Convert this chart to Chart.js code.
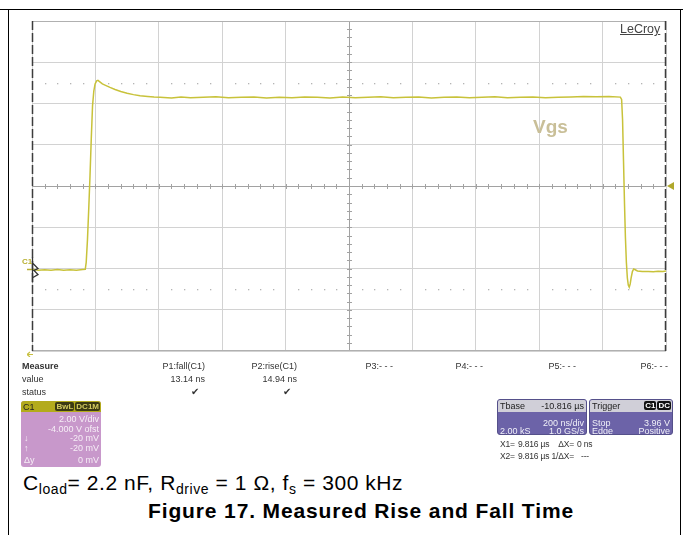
<!DOCTYPE html>
<html>
<head>
<meta charset="utf-8">
<script src="https://cdn.jsdelivr.net/npm/chart.js@4.4.0/dist/chart.umd.min.js"></script>
<style>
body { margin: 0; background: #fff; font-family: Arial, "Liberation Sans", sans-serif; }
#page { position: relative; width: 683px; height: 535px; overflow: hidden; }
#frameTop { position: absolute; left: 0; top: 9px; width: 683px; height: 0; border-top: 1.5px solid #000; }
#frameL { position: absolute; left: 8px; top: 9px; width: 0; height: 530px; border-left: 1.5px solid #000; }
#frameR { position: absolute; left: 680px; top: 9px; width: 0; height: 530px; border-left: 1.5px solid #000; }
#wrap { position: absolute; left: 27px; top: 16px; width: 651px; height: 341px; }
.t { position: absolute; white-space: nowrap; font-size: 9px; line-height: 10px; color: #333; }
.box { position: absolute; border-radius: 3px; overflow: hidden; }
.badges { position: absolute; right: 1px; top: 1px; font-size: 8px; line-height: 9px; height: 9px; }
.badge { display: inline-block; padding: 0 1px; border-radius: 2px; line-height: 9px; font-size: 8px; font-weight: bold; vertical-align: top; }
#cap1 { position: absolute; left: 23px; top: 472px; font-size: 21px; line-height: 22px; color: #000; white-space: nowrap; }
#cap1 sub { font-size: 14px; vertical-align: -4px; line-height: 0; }
#cap2 { position: absolute; left: 148px; top: 500px; font-size: 21px; line-height: 22px; font-weight: bold; color: #000; white-space: nowrap; }
</style>
</head>
<body>
<div id="page">
  <div id="frameTop"></div>
  <div id="frameL"></div>
  <div id="frameR"></div>
  <div id="wrap"><canvas id="scope" width="651" height="341"></canvas></div>

  <div class="t" style="left:620px;top:22px;font-size:12.5px;line-height:14px;color:#444;text-decoration:underline;">LeCroy</div>
  <div class="t" style="left:533px;top:116px;font-size:19px;line-height:22px;font-weight:bold;color:#c9bf98;">Vgs</div>
  <div class="t" style="left:22px;top:257px;font-size:8px;line-height:9px;font-weight:bold;color:#b8b030;">C1</div>

  <div id="cap1">C<sub>load</sub>= 2.2 nF, R<sub>drive</sub> = 1 Ω, f<sub>s</sub> = 300 kHz</div>
  <div id="cap2">Figure 17. Measured Rise and Fall Time</div>
</div>

<script>
// trace, time in ns from left edge (200 ns/div), Vgs in volts
const timeNs = [0, 20, 40, 60, 80, 100, 120, 140, 160, 168,
    171, 175, 179, 183, 187, 191, 195, 199, 204, 208, 214, 222, 232, 246, 262, 280, 300, 320, 341, 365, 385,
    404, 440, 470, 500, 540, 580, 620, 660, 700, 740, 780, 820, 860, 900, 940, 980, 1020, 1060, 1100, 1140,
    1180, 1220, 1260, 1300, 1340, 1380, 1420, 1460, 1500, 1540, 1580, 1620, 1660, 1700, 1740, 1780, 1820, 1856,
    1860, 1863, 1866, 1869, 1872, 1875, 1878, 1881, 1884, 1887, 1890, 1894, 1898, 1903, 1910, 1925, 1945, 1960, 1975, 1990, 2000];
const vgs = [-0.05, -0.08, -0.06, -0.09, -0.05, -0.08, -0.06, -0.08, -0.05, -0.04,
    0.3, 1.4, 2.9, 4.5, 6.3, 7.9, 8.6, 8.95, 9.1, 9.12, 9.05, 8.95, 8.88, 8.78, 8.68, 8.58, 8.5, 8.43, 8.38, 8.34, 8.31,
    8.3, 8.27, 8.32, 8.28, 8.3, 8.33, 8.28, 8.3, 8.32, 8.27, 8.3, 8.28, 8.32, 8.3, 8.27, 8.32, 8.28, 8.3, 8.33, 8.28,
    8.3, 8.32, 8.27, 8.3, 8.32, 8.28, 8.3, 8.33, 8.28, 8.3, 8.32, 8.28, 8.3, 8.32, 8.34, 8.33, 8.34, 8.31,
    8.2, 7.2, 5.2, 3.2, 1.5, 0.3, -0.45, -0.8, -0.9, -0.75, -0.45, -0.15, -0.02, -0.06, -0.12, -0.15, -0.14, -0.16, -0.13, -0.15, -0.12];

const dottedLevels = [9, -1];      // dotted rows across the screen
const groundLevel = 0;             // C1 marker
const triggerLevel = 4;            // arrow on right edge

const measNames = ['P1:fall(C1)', 'P2:rise(C1)', 'P3:- - -', 'P4:- - -', 'P5:- - -', 'P6:- - -'];
const measValues = ['13.14 ns', '14.94 ns', '', '', '', ''];
const measStatus = ['✔', '✔', '', '', '', ''];

const chanRows = [['', '2.00 V/div'], ['', '-4.000 V ofst'], ['↓', '-20 mV'], ['↑', '-20 mV'], ['Δy', '0 mV']];
const tbaseRows = [['Tbase', '-10.816 µs'], ['', '200 ns/div'], ['2.00 kS', '1.0 GS/s']];
const trigRows = [['Trigger', ''], ['Stop', '3.96 V'], ['Edge', 'Positive']];
const cursorRows = [['X1=', '9.816 µs', 'ΔX=', '0 ns'], ['X2=', '9.816 µs', '1/ΔX=', '---']];

// ---- text panel under the screen ----
function txt(parent, s, left, top, extra) {
    const d = document.createElement('div');
    d.className = 't';
    d.textContent = s;
    d.style.left = left + 'px';
    d.style.top = top + 'px';
    if (extra) d.style.cssText += extra;
    parent.appendChild(d);
    return d;
}

const page = document.getElementById('page');
txt(page, 'Measure', 22, 361, 'font-weight:bold;');
txt(page, 'value', 22, 374);
txt(page, 'status', 22, 387);
const colRight = [205, 297, 393, 483, 576, 668];
measNames.forEach((n, i) => {
    const l = colRight[i] - 80;
    txt(page, n, l, 361, 'width:80px;text-align:right;');
    if (measValues[i]) txt(page, measValues[i], l, 374, 'width:80px;text-align:right;');
    if (measStatus[i]) txt(page, measStatus[i], l - 6, 387, 'width:80px;text-align:right;font-size:10px;');
});

// channel box
const cb = document.createElement('div');
cb.className = 'box';
cb.style.cssText += 'left:21px;top:401px;width:80px;height:66px;background:#c898cb;';
page.appendChild(cb);
const cbHead = document.createElement('div');
cbHead.style.cssText = 'position:absolute;left:0;top:0;width:80px;height:11px;background:#b3ab1c;';
cb.appendChild(cbHead);
txt(cb, 'C1', 2, 1, 'color:#222;');
const badges = document.createElement('div');
badges.className = 'badges';
badges.innerHTML = '<span class="badge" style="background:#3c3a12;color:#d4cc60;">BwL</span><span class="badge" style="background:#3c3a12;color:#d4cc60;margin-left:1px;">DC1M</span>';
cb.appendChild(badges);
const chanY = [13, 23, 32, 42, 54];
chanRows.forEach((row, i) => {
    if (row[0]) txt(cb, row[0], 3, chanY[i], 'color:#f6eef6;');
    txt(cb, row[1], 0, chanY[i], 'width:78px;text-align:right;color:#f6eef6;');
});

// timebase and trigger boxes
function scopeBox(rows, left, width, badgeHtml) {
    const b = document.createElement('div');
    b.className = 'box';
    b.style.cssText += 'left:' + left + 'px;top:399px;width:' + width + 'px;height:36px;background:#6c63a8;border:1px solid #55508a;box-sizing:border-box;';
    page.appendChild(b);
    const h = document.createElement('div');
    h.style.cssText = 'position:absolute;left:0;top:0;width:100%;height:12px;background:#d0cfd8;';
    b.appendChild(h);
    const ys = [1, 18, 26];
    rows.forEach((row, i) => {
        const c = i === 0 ? '#222' : '#f0f0f8';
        if (row[0]) txt(b, row[0], 2, ys[i], 'color:' + c + ';');
        if (row[1]) txt(b, row[1], 0, ys[i], 'width:' + (width - 4) + 'px;text-align:right;color:' + c + ';');
    });
    if (badgeHtml) {
        const bd = document.createElement('div');
        bd.className = 'badges';
        bd.innerHTML = badgeHtml;
        b.appendChild(bd);
    }
}
scopeBox(tbaseRows, 497, 90);
scopeBox(trigRows, 589, 84, '<span class="badge" style="background:#111;color:#fff;">C1</span><span class="badge" style="background:#111;color:#fff;margin-left:1px;">DC</span>');

const curY = [439, 451];
cursorRows.forEach((row, i) => {
    const cs = 'font-size:8.5px;letter-spacing:-0.2px;';
    txt(page, row[0], 500, curY[i], cs);
    txt(page, row[1], 518, curY[i], cs);
    txt(page, row[2], 494, curY[i], cs + 'width:80px;text-align:right;');
    txt(page, row[3], i === 0 ? 577 : 581, curY[i], cs);
});

// stretch the caption lines to the width they have in the figure
function fitWidth(el, target) {
    const w = el.getBoundingClientRect().width;
    el.style.letterSpacing = ((target - w) / el.textContent.length).toFixed(2) + 'px';
}
fitWidth(document.getElementById('cap1'), 380);
fitWidth(document.getElementById('cap2'), 426);

// ---- screen decorations drawn from the scales ----
const scopeExtras = {
    id: 'scopeExtras',
    beforeDatasetsDraw(chart) {
        const { ctx, chartArea: a, scales: { x, y } } = chart;
        ctx.save();
        // dotted rows
        ctx.fillStyle = '#b4b4b4';
        dottedLevels.forEach(v => {
            const py = Math.round(y.getPixelForValue(v));
            for (let t = 40; t < 2000; t += 40) {
                if (t % 200 === 0) continue;
                ctx.fillRect(Math.round(x.getPixelForValue(t)), py, 1.3, 1.3);
            }
        });
        // centre cross with minor ticks
        const cx = Math.round(x.getPixelForValue(1000)) + 0.5;
        const cy = Math.round(y.getPixelForValue(4)) + 0.5;
        ctx.strokeStyle = '#a2a2a2';
        ctx.lineWidth = 1;
        ctx.beginPath();
        ctx.moveTo(a.left, cy); ctx.lineTo(a.right, cy);
        ctx.moveTo(cx, a.top); ctx.lineTo(cx, a.bottom);
        for (let t = 40; t < 2000; t += 40) {
            const px = Math.round(x.getPixelForValue(t)) + 0.5;
            ctx.moveTo(px, cy - 2.5); ctx.lineTo(px, cy + 2.5);
        }
        for (let v = -3.6; v < 12; v += 0.4) {
            const py = Math.round(y.getPixelForValue(v)) + 0.5;
            ctx.moveTo(cx - 2.5, py); ctx.lineTo(cx + 2.5, py);
        }
        ctx.stroke();
        // top / bottom edge
        ctx.strokeStyle = '#b0b0b0';
        ctx.beginPath();
        ctx.moveTo(a.left, a.top + 0.5); ctx.lineTo(a.right, a.top + 0.5);
        ctx.moveTo(a.left, a.bottom - 0.5); ctx.lineTo(a.right, a.bottom - 0.5);
        ctx.stroke();
        // dashed side edges
        ctx.strokeStyle = '#3c3c3c';
        ctx.lineWidth = 1.5;
        ctx.setLineDash([9, 3]);
        ctx.beginPath();
        ctx.moveTo(a.left + 0.5, a.top); ctx.lineTo(a.left + 0.5, a.bottom);
        ctx.moveTo(a.right - 0.5, a.top); ctx.lineTo(a.right - 0.5, a.bottom);
        ctx.stroke();
        ctx.restore();
    },
    afterDraw(chart) {
        const { ctx, chartArea: a, scales: { y } } = chart;
        ctx.save();
        // ground marker C1
        const gy = Math.round(y.getPixelForValue(groundLevel)) + 0.5;
        ctx.strokeStyle = '#b8b030';
        ctx.lineWidth = 1.5;
        ctx.beginPath();
        ctx.moveTo(a.left - 9, gy); ctx.lineTo(a.left + 2, gy);
        ctx.stroke();
        ctx.strokeStyle = '#333';
        ctx.lineWidth = 1.3;
        ctx.beginPath();
        ctx.moveTo(a.left + 0.5, gy - 12); ctx.lineTo(a.left + 0.5, gy + 13);
        ctx.moveTo(a.left + 1, gy - 6); ctx.lineTo(a.left + 6, gy - 1);
        ctx.lineTo(a.left + 2, gy + 1); ctx.lineTo(a.left + 6, gy + 5);
        ctx.lineTo(a.left + 1, gy + 8);
        ctx.stroke();
        // trigger level arrow on the right
        const ty = y.getPixelForValue(triggerLevel);
        ctx.fillStyle = '#b0a82c';
        ctx.beginPath();
        ctx.moveTo(a.right + 1, ty); ctx.lineTo(a.right + 8, ty - 4); ctx.lineTo(a.right + 8, ty + 4);
        ctx.closePath();
        ctx.fill();
        // small arrow under the left edge
        ctx.strokeStyle = '#c8c040';
        ctx.lineWidth = 1.2;
        ctx.beginPath();
        ctx.moveTo(a.left - 5, a.bottom + 3.5); ctx.lineTo(a.left + 1, a.bottom + 3.5);
        ctx.moveTo(a.left - 5, a.bottom + 3.5); ctx.lineTo(a.left - 2, a.bottom + 1);
        ctx.moveTo(a.left - 5, a.bottom + 3.5); ctx.lineTo(a.left - 2, a.bottom + 6);
        ctx.stroke();
        ctx.restore();
    }
};

const ctx = document.getElementById('scope').getContext('2d');
new Chart(ctx, {
    type: 'line',
    data: {
        datasets: [{
            label: 'Vgs',
            data: timeNs.map((t, i) => ({ x: t, y: vgs[i] })),
            borderColor: '#c8c23a',
            borderWidth: 1.5,
            pointRadius: 0,
            tension: 0,
            fill: false
        }]
    },
    options: {
        responsive: false,
        animation: false,
        layout: { padding: { left: 5, top: 5, right: 12, bottom: 6 } },
        plugins: { legend: { display: false }, tooltip: { enabled: false } },
        scales: {
            x: {
                type: 'linear', min: 0, max: 2000,
                ticks: { display: false, stepSize: 200 },
                grid: { color: '#d2d2d2', drawTicks: false },
                border: { display: false }
            },
            y: {
                min: -4, max: 12,
                ticks: { display: false, stepSize: 2 },
                grid: { color: '#d2d2d2', drawTicks: false },
                border: { display: false }
            }
        }
    },
    plugins: [scopeExtras]
});
</script>
</body>
</html>
